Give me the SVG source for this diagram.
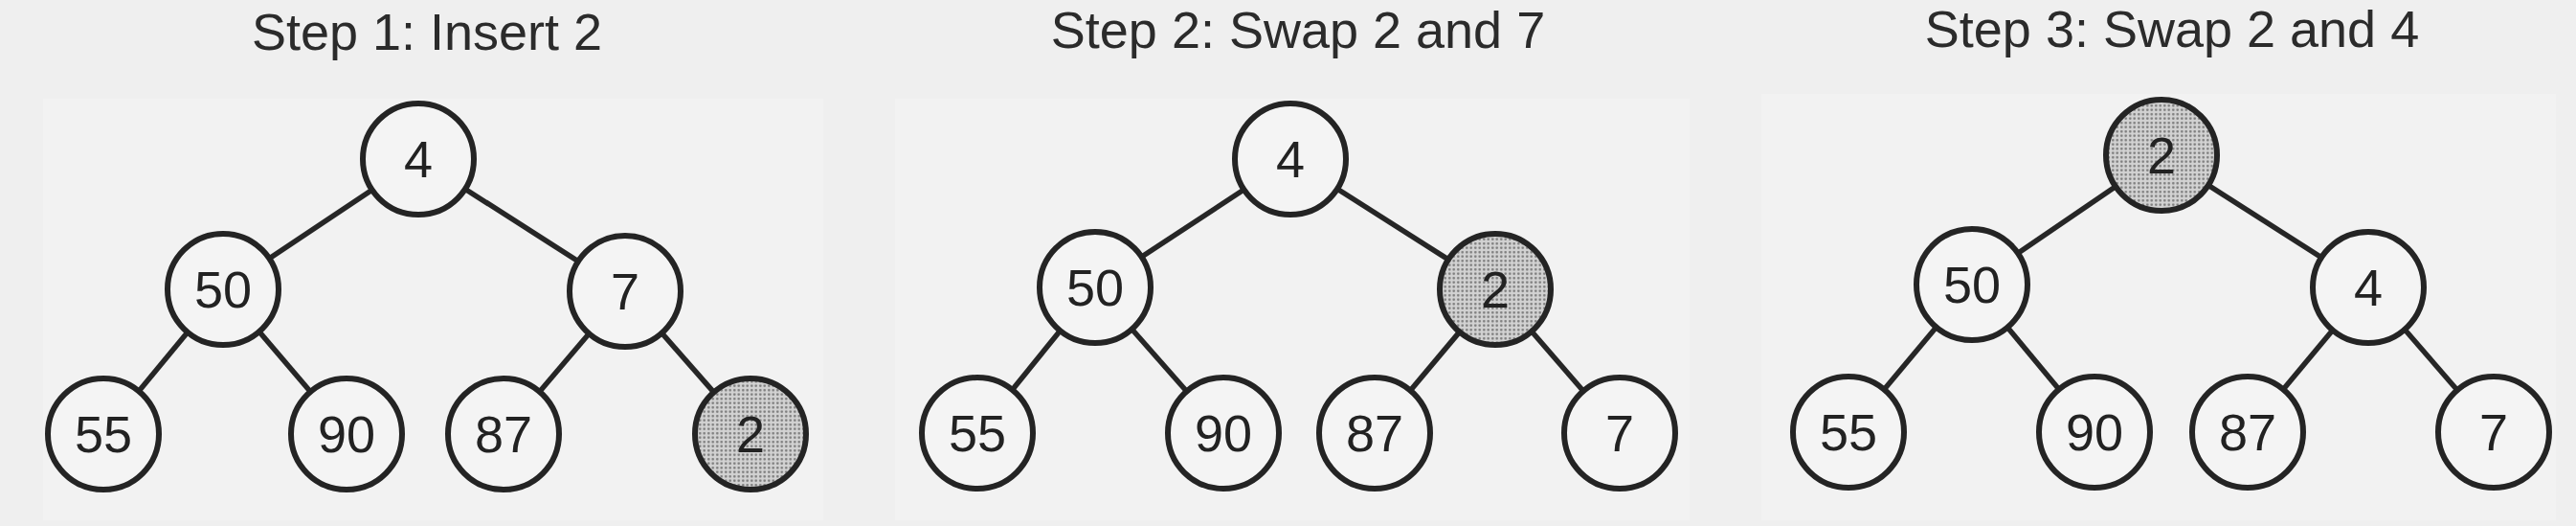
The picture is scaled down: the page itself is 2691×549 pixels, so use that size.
<svg xmlns="http://www.w3.org/2000/svg" width="2691" height="549" viewBox="0 0 2691 549">
<style>
.title{font-family:"Liberation Sans",Arial,sans-serif;font-size:54px;fill:#2b2b2b;text-anchor:middle}
.lbl{font-family:"Liberation Sans",Arial,sans-serif;font-size:54px;fill:#222;text-anchor:middle}
.node{fill:#f4f4f4;stroke:#242424;stroke-width:6}
.hl{fill:url(#stip);stroke:#242424;stroke-width:6}
.edge{stroke:#262626;stroke-width:5.5;fill:none}
</style>
<defs>
<pattern id="stip" width="4.5" height="4.5" patternUnits="userSpaceOnUse">
<rect width="4.5" height="4.5" fill="#d2d2d2"/>
<circle cx="2.25" cy="2.25" r="1.3" fill="#7a7a7a"/>
</pattern>
</defs>
<rect width="2691" height="549" fill="#efefef"/>
<rect x="45" y="103" width="815" height="440" fill="#f2f2f2"/>
<rect x="935" y="103" width="830" height="440" fill="#f2f2f2"/>
<rect x="1840" y="98" width="830" height="445" fill="#f2f2f2"/>

<text class="title" x="446" y="52">Step 1: Insert 2</text>
<text class="title" x="1356" y="50">Step 2: Swap 2 and 7</text>
<text class="title" x="2269" y="49">Step 3: Swap 2 and 4</text>

<g id="connectors">
<line class="edge" x1="437" y1="166" x2="233" y2="302"/>
<line class="edge" x1="437" y1="166" x2="653" y2="304"/>
<line class="edge" x1="233" y1="302" x2="108" y2="453"/>
<line class="edge" x1="233" y1="302" x2="362" y2="453"/>
<line class="edge" x1="653" y1="304" x2="526" y2="453"/>
<line class="edge" x1="653" y1="304" x2="784" y2="453"/>

<line class="edge" x1="1348" y1="166" x2="1144" y2="300"/>
<line class="edge" x1="1348" y1="166" x2="1562" y2="302"/>
<line class="edge" x1="1144" y1="300" x2="1021" y2="452"/>
<line class="edge" x1="1144" y1="300" x2="1278" y2="452"/>
<line class="edge" x1="1562" y1="302" x2="1436" y2="452"/>
<line class="edge" x1="1562" y1="302" x2="1692" y2="452"/>

<line class="edge" x1="2258" y1="162" x2="2060" y2="297"/>
<line class="edge" x1="2258" y1="162" x2="2474" y2="300"/>
<line class="edge" x1="2060" y1="297" x2="1931" y2="451"/>
<line class="edge" x1="2060" y1="297" x2="2188" y2="451"/>
<line class="edge" x1="2474" y1="300" x2="2348" y2="451"/>
<line class="edge" x1="2474" y1="300" x2="2605" y2="451"/>
</g>

<g id="s1-n4"><circle class="node" cx="437" cy="166" r="58"/><text class="lbl" x="437" y="185">4</text></g>
<g id="s1-n50"><circle class="node" cx="233" cy="302" r="58"/><text class="lbl" x="233" y="321">50</text></g>
<g id="s1-n7"><circle class="node" cx="653" cy="304" r="58"/><text class="lbl" x="653" y="323">7</text></g>
<g id="s1-n55"><circle class="node" cx="108" cy="453" r="58"/><text class="lbl" x="108" y="472">55</text></g>
<g id="s1-n90"><circle class="node" cx="362" cy="453" r="58"/><text class="lbl" x="362" y="472">90</text></g>
<g id="s1-n87"><circle class="node" cx="526" cy="453" r="58"/><text class="lbl" x="526" y="472">87</text></g>
<g id="s1-n2"><circle class="hl" cx="784" cy="453" r="58"/><text class="lbl" x="784" y="472">2</text></g>

<g id="s2-n4"><circle class="node" cx="1348" cy="166" r="58"/><text class="lbl" x="1348" y="185">4</text></g>
<g id="s2-n50"><circle class="node" cx="1144" cy="300" r="58"/><text class="lbl" x="1144" y="319">50</text></g>
<g id="s2-n2"><circle class="hl" cx="1562" cy="302" r="58"/><text class="lbl" x="1562" y="321">2</text></g>
<g id="s2-n55"><circle class="node" cx="1021" cy="452" r="58"/><text class="lbl" x="1021" y="471">55</text></g>
<g id="s2-n90"><circle class="node" cx="1278" cy="452" r="58"/><text class="lbl" x="1278" y="471">90</text></g>
<g id="s2-n87"><circle class="node" cx="1436" cy="452" r="58"/><text class="lbl" x="1436" y="471">87</text></g>
<g id="s2-n7"><circle class="node" cx="1692" cy="452" r="58"/><text class="lbl" x="1692" y="471">7</text></g>

<g id="s3-n2"><circle class="hl" cx="2258" cy="162" r="58"/><text class="lbl" x="2258" y="181">2</text></g>
<g id="s3-n50"><circle class="node" cx="2060" cy="297" r="58"/><text class="lbl" x="2060" y="316">50</text></g>
<g id="s3-n4"><circle class="node" cx="2474" cy="300" r="58"/><text class="lbl" x="2474" y="319">4</text></g>
<g id="s3-n55"><circle class="node" cx="1931" cy="451" r="58"/><text class="lbl" x="1931" y="470">55</text></g>
<g id="s3-n90"><circle class="node" cx="2188" cy="451" r="58"/><text class="lbl" x="2188" y="470">90</text></g>
<g id="s3-n87"><circle class="node" cx="2348" cy="451" r="58"/><text class="lbl" x="2348" y="470">87</text></g>
<g id="s3-n7"><circle class="node" cx="2605" cy="451" r="58"/><text class="lbl" x="2605" y="470">7</text></g>
</svg>
